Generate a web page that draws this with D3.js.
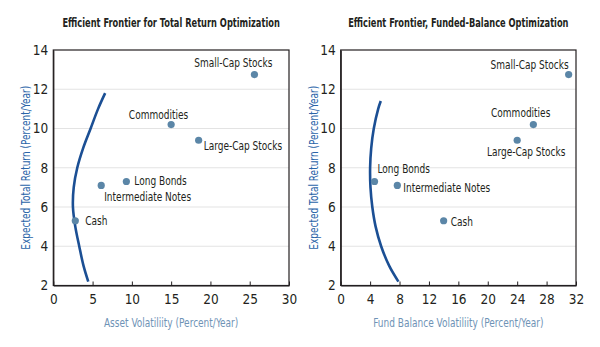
<!DOCTYPE html>
<html>
<head>
<meta charset="utf-8">
<script src="https://cdnjs.cloudflare.com/ajax/libs/d3/7.8.5/d3.min.js"></script>
<style>
  body { margin: 0; background: #fff; }
  text { font-family: "Liberation Sans Narrow", "DejaVu Sans Condensed", "DejaVu Sans", sans-serif; font-stretch: condensed; }
</style>
</head>
<body>
<div id="chart-area"></div>
<script>
// asset classes and their expected returns (same in both panels)
var assets = ["Small-Cap Stocks", "Commodities", "Large-Cap Stocks", "Long Bonds", "Intermediate Notes", "Cash"];
var returns = [12.75, 10.2, 9.4, 7.3, 7.1, 5.3];

// volatility of each asset, total return view vs funded-balance view
var assetVol = [25.6, 15.0, 18.5, 9.3, 6.1, 2.8];
var fundVol = [31.0, 26.2, 24.0, 4.6, 7.7, 14.0];

// efficient frontier, [volatility, return]
var frontierTotal = [[4.45, 2.2], [3.85, 3], [3.3, 4], [2.8, 5], [2.5, 6], [2.6, 7],
  [3.05, 8], [3.8, 9], [4.75, 10], [5.7, 11], [6.6, 11.8]];
var frontierFunded = [[7.85, 2.2], [6.6, 3], [5.5, 4], [4.75, 5], [4.3, 6], [4.05, 7],
  [4.0, 8], [4.15, 9], [4.5, 10], [5.1, 11], [5.45, 11.4]];

// axis ticks
var yTicks = [2, 4, 6, 8, 10, 12, 14];
var xTicksTotal = [0, 5, 10, 15, 20, 25, 30];
var xTicksFunded = [0, 4, 8, 12, 16, 20, 24, 28, 32];

// label placement per asset: [dx, dy, anchor]
var labelsTotal = [[18, -8, "end"], [17, -6, "end"], [5, 10, "start"], [8, 4, "start"], [3, 16, "start"], [10, 4, "start"]];
var labelsFunded = [[0, -6, "end"], [17, -8, "end"], [9, 16, "middle"], [3, -8, "start"], [6, 7, "start"], [7, 5, "start"]];

var svg = d3.select("#chart-area").append("svg")
  .attr("width", 600)
  .attr("height", 347);

var plotTop = 50, plotBottom = 285.5;

// narrow the glyphs a little, the house font is more condensed than ours
function squeeze(sel, k) {
  sel.each(function() {
    var w = this.getComputedTextLength();
    d3.select(this)
      .attr("textLength", w * k)
      .attr("lengthAdjust", "spacingAndGlyphs");
  });
}

function panel(opts) {
  var x = d3.scaleLinear().domain([0, opts.xMax]).range([opts.left, opts.right]);
  var y = d3.scaleLinear().domain([2, 14]).range([plotBottom, plotTop]);
  var g = svg.append("g");

  // gridlines
  g.selectAll("line.grid")
    .data(yTicks.filter(function(d) { return d > 2 && d < 14; }))
    .enter().append("line")
      .attr("class", "grid")
      .attr("x1", opts.left).attr("x2", opts.right)
      .attr("y1", function(d) { return y(d); })
      .attr("y2", function(d) { return y(d); })
      .attr("stroke", "#e3e3e3")
      .attr("stroke-width", 1.2);

  // frame
  g.append("rect")
    .attr("x", opts.left).attr("y", plotTop)
    .attr("width", opts.right - opts.left)
    .attr("height", plotBottom - plotTop)
    .attr("fill", "none")
    .attr("stroke", "#231f20")
    .attr("stroke-width", 1.2);

  var xAxis = g.append("g")
    .attr("transform", "translate(0," + plotBottom + ")")
    .call(d3.axisBottom(x).tickValues(opts.xTicks).tickSize(-4).tickSizeOuter(0).tickPadding(9));
  var yAxis = g.append("g")
    .attr("transform", "translate(" + opts.left + ",0)")
    .call(d3.axisLeft(y).tickValues(yTicks).tickSize(0).tickPadding(5));

  [xAxis, yAxis].forEach(function(a) {
    a.select(".domain").attr("stroke", "#231f20").attr("stroke-width", 1.2);
    a.selectAll(".tick line").attr("stroke", "#231f20");
    a.selectAll("text")
      .attr("font-size", "13.5px")
      .attr("fill", "#231f20");
  });
  g.selectAll("g").attr("font-family", null);

  // frontier
  var line = d3.line()
    .x(function(d) { return x(d[0]); })
    .y(function(d) { return y(d[1]); })
    .curve(d3.curveCatmullRom);
  g.append("path")
    .datum(opts.frontier)
    .attr("d", line)
    .attr("fill", "none")
    .attr("stroke", "#1b4f94")
    .attr("stroke-width", 2.6);

  // asset points
  var pts = assets.map(function(name, i) {
    return { name: name, vol: opts.vol[i], ret: returns[i], lab: opts.labels[i] };
  });
  g.selectAll("circle.asset")
    .data(pts)
    .enter().append("circle")
      .attr("class", "asset")
      .attr("cx", function(d) { return x(d.vol); })
      .attr("cy", function(d) { return y(d.ret); })
      .attr("r", 3.6)
      .attr("fill", "#5b86a7");
  g.selectAll("text.asset")
    .data(pts)
    .enter().append("text")
      .attr("class", "asset")
      .attr("x", function(d) { return x(d.vol) + d.lab[0]; })
      .attr("y", function(d) { return y(d.ret) + d.lab[1]; })
      .attr("text-anchor", function(d) { return d.lab[2]; })
      .attr("font-size", "12.5px")
      .attr("fill", "#231f20")
      .text(function(d) { return d.name; })
      .call(squeeze, 0.8);

  // titles
  g.append("text")
    .attr("x", (opts.left + opts.right) / 2)
    .attr("y", 27)
    .attr("text-anchor", "middle")
    .attr("font-size", "11.5px")
    .attr("font-weight", "bold")
    .attr("fill", "#231f20")
    .text(opts.title)
    .call(squeeze, 0.8);
  g.append("text")
    .attr("x", (opts.left + opts.right) / 2)
    .attr("y", 327)
    .attr("text-anchor", "middle")
    .attr("font-size", "12.5px")
    .attr("fill", "#6f93b6")
    .text(opts.xLabel)
    .call(squeeze, 0.8);
  g.append("text")
    .attr("transform", "translate(" + (opts.left - 23) + "," + ((plotTop + plotBottom) / 2) + ") rotate(-90)")
    .attr("text-anchor", "middle")
    .attr("font-size", "12.5px")
    .attr("fill", "#2a64a8")
    .text("Expected Total Return (Percent/Year)")
    .call(squeeze, 0.8);
}

panel({
  left: 53.3, right: 289, xMax: 30, xTicks: xTicksTotal,
  vol: assetVol, frontier: frontierTotal, labels: labelsTotal,
  title: "Efficient Frontier for Total Return Optimization",
  xLabel: "Asset Volatiliity (Percent/Year)"
});

panel({
  left: 340.7, right: 576, xMax: 32, xTicks: xTicksFunded,
  vol: fundVol, frontier: frontierFunded, labels: labelsFunded,
  title: "Efficient Frontier, Funded-Balance Optimization",
  xLabel: "Fund Balance Volatiliity (Percent/Year)"
});
</script>
</body>
</html>
